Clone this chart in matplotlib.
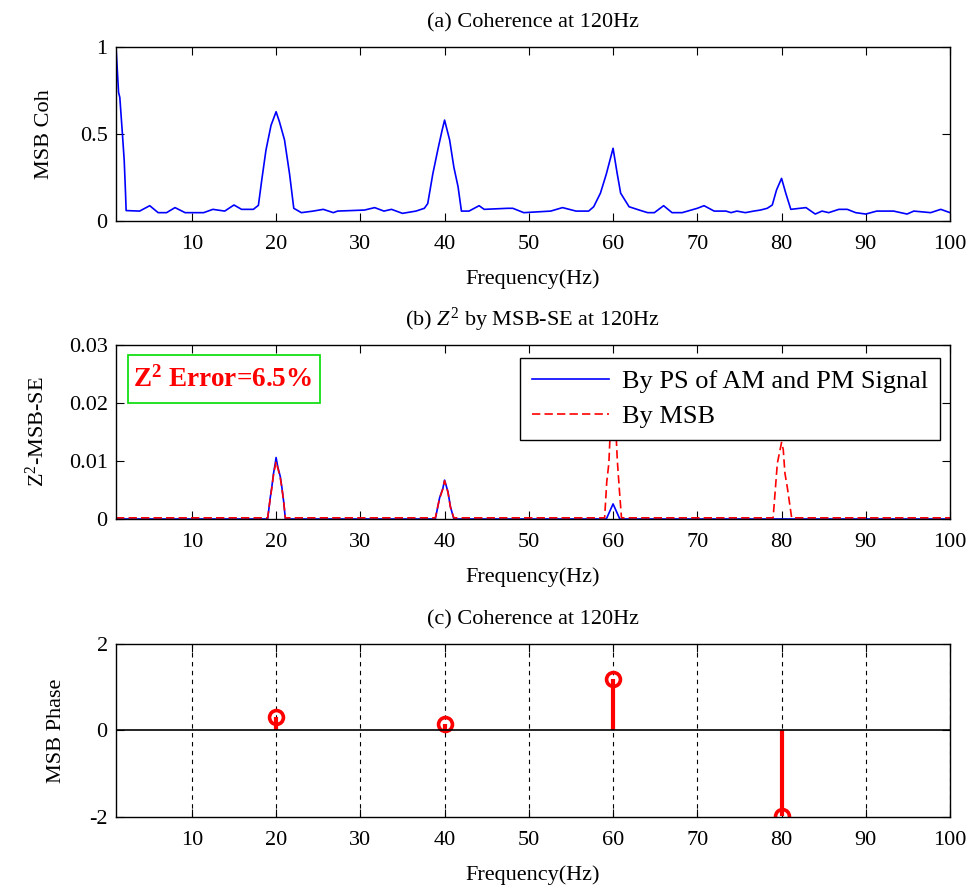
import matplotlib
matplotlib.use("Agg")
import matplotlib.pyplot as plt
from matplotlib.patches import Rectangle

# ---- (a) magnitude-squared bicoherence vs frequency ----
coh_freq = [1.0, 1.3, 1.45, 1.73, 1.97, 2.12, 2.2, 3.8, 5.0, 6.0, 7.0, 8.0, 9.2, 11.4, 12.5,
            13.9, 15.0, 15.9, 17.3, 17.9, 18.3, 18.8, 19.4, 20.0, 20.4, 21.0, 21.6, 22.1,
            23.0, 24.4, 25.6, 26.8, 27.3, 30.5, 31.7, 32.8, 33.7, 35.0, 36.6, 37.6, 38.0,
            38.6, 39.2, 39.7, 40.0, 40.6, 41.1, 41.6, 42.0, 42.9, 44.1, 44.7, 47.5, 48.1,
            49.4, 52.6, 54.0, 55.6, 57.1, 57.7, 58.5, 59.2, 60.0, 60.5, 60.9, 61.9, 63.1,
            64.1, 64.9, 66.0, 67.0, 68.2, 70.0, 70.8, 72.0, 73.4, 74.0, 74.7, 75.7, 76.7,
            77.5, 78.3, 78.9, 79.4, 80.0, 80.5, 81.1, 82.9, 84.0, 84.8, 85.6, 86.8, 87.8,
            88.8, 90.0, 91.3, 93.3, 94.9, 95.7, 97.7, 98.9, 100.0]
coh_val = [1.0, 0.74, 0.71, 0.52, 0.35, 0.17, 0.06, 0.057, 0.088, 0.048, 0.048, 0.077, 0.048,
           0.048, 0.067, 0.057, 0.092, 0.067, 0.067, 0.09, 0.236, 0.408, 0.55, 0.628, 0.57,
           0.466, 0.27, 0.073, 0.048, 0.057, 0.067, 0.048, 0.057, 0.063, 0.077, 0.057,
           0.067, 0.044, 0.057, 0.073, 0.10, 0.27, 0.41, 0.52, 0.58, 0.466, 0.31, 0.197,
           0.057, 0.057, 0.088, 0.067, 0.073, 0.073, 0.048, 0.057, 0.077, 0.057, 0.057,
           0.082, 0.16, 0.27, 0.418, 0.27, 0.16, 0.082, 0.063, 0.048, 0.048, 0.088, 0.048,
           0.048, 0.073, 0.088, 0.057, 0.057, 0.048, 0.057, 0.048, 0.057, 0.063, 0.073,
           0.092, 0.178, 0.245, 0.16, 0.067, 0.077, 0.04, 0.057, 0.048, 0.067, 0.067,
           0.048, 0.04, 0.057, 0.057, 0.04, 0.057, 0.048, 0.067, 0.048]

# ---- (b) Z^2 estimates ----
ps_freq = [1.0, 19.0, 19.3, 19.5, 19.7, 19.9, 20.0, 20.2, 20.5, 20.7, 20.9, 21.1,
           38.9, 39.4, 39.8, 40.0, 40.4, 40.7, 41.1, 59.2, 60.0, 60.8, 100.0]
ps_val = [0.0, 0.0, 0.0036, 0.0056, 0.0079, 0.0096, 0.0106, 0.009, 0.0073, 0.0053, 0.003, 0.0,
          0.0, 0.0036, 0.0053, 0.0067, 0.0047, 0.0021, 0.0, 0.0, 0.0026, 0.0, 0.0]

msb_freq = [1.0, 19.0, 19.3, 19.5, 19.7, 20.0, 20.2, 20.5, 20.7, 20.9, 21.1,
            38.9, 39.4, 39.8, 40.0, 40.4, 40.7, 41.1,
            59.0, 59.25, 59.5, 60.0, 60.5, 60.75, 61.0,
            79.0, 79.5, 80.0, 80.2, 80.4, 80.7, 81.2, 100.0]
msb_val = [0.0002, 0.0002, 0.0035, 0.0054, 0.0077, 0.0099, 0.0088, 0.0071, 0.0052, 0.003, 0.0002,
           0.0002, 0.0035, 0.0052, 0.0066, 0.0046, 0.002, 0.0002,
           0.0002, 0.0064, 0.0096, 0.026, 0.0102, 0.005, 0.0002,
           0.0002, 0.0096, 0.0132, 0.012, 0.0079, 0.0053, 0.0002, 0.0002]

# ---- (c) bispectral phase at the coupled frequencies ----
phase_freq = [20, 40, 60, 80]
phase_val = [0.32, 0.16, 1.2, -1.98]

x_ticks = [10, 20, 30, 40, 50, 60, 70, 80, 90, 100]

plt.rcParams.update({
    "font.family": ["Liberation Serif", "DejaVu Serif"],
    "mathtext.fontset": "custom",
    "mathtext.rm": "Liberation Serif",
    "mathtext.it": "Liberation Serif:italic",
    "mathtext.bf": "Liberation Serif:bold",
    "axes.unicode_minus": False,
    "font.size": 16,
    "axes.linewidth": 1.0,
    "xtick.direction": "in",
    "ytick.direction": "in",
    "xtick.top": True,
    "ytick.right": True,
    "xtick.major.size": 6,
    "ytick.major.size": 6,
    "xtick.major.pad": 10,
    "ytick.major.pad": 6,
})

fig = plt.figure(figsize=(9.75, 8.89), dpi=100)
L, W, H = 0.119, 0.8554, 0.1957
ax1 = fig.add_axes([L, 0.7514, W, H])
ax2 = fig.add_axes([L, 0.4162, W, H])
ax3 = fig.add_axes([L, 0.0810, W, 0.1946])

# (a)
ax1.plot(coh_freq, coh_val, color="#0000ff", lw=1.2)
ax1.set_xlim(1, 100)
ax1.set_ylim(0, 1)
ax1.set_xticks(x_ticks)
ax1.set_yticks([0, 0.5, 1])
ax1.set_yticklabels(["0", "0.5", "1"])
ax1.set_title("(a) Coherence at 120Hz", fontsize=16, pad=14)
ax1.set_xlabel("Frequency(Hz)", labelpad=11)
ax1.set_ylabel("MSB Coh")
ax1.yaxis.set_label_coords(-0.074, 0.5)

# (b)
ax2.plot(ps_freq, ps_val, color="#0000ff", lw=1.2, label="By PS of AM and PM Signal")
ax2.plot(msb_freq, msb_val, color="#ff0000", lw=1.2, dashes=(5, 2.5), label="By MSB")
ax2.set_xlim(1, 100)
ax2.set_ylim(0, 0.03)
ax2.set_xticks(x_ticks)
ax2.set_yticks([0, 0.01, 0.02, 0.03])
ax2.set_yticklabels(["0", "0.01", "0.02", "0.03"])
ax2.set_title(r"(b) $Z^2$ by MSB-SE at 120Hz", fontsize=16, pad=14)
ax2.set_xlabel("Frequency(Hz)", labelpad=11)
ax2.set_ylabel(r"$\mathrm{Z}^2$-MSB-SE")
ax2.yaxis.set_label_coords(-0.081, 0.5)
leg = ax2.legend(loc="upper right", bbox_to_anchor=(0.988, 0.925), borderaxespad=0,
                 fancybox=False, framealpha=1, edgecolor="black", fontsize=19,
                 handlelength=2.9, handletextpad=0.5, borderpad=0.45, labelspacing=0.42)
leg.get_frame().set_linewidth(1.0)
ax2.add_patch(Rectangle((0.0144, 0.6667), 0.2302, 0.2758, transform=ax2.transAxes,
                        facecolor="white", edgecolor="#00dd00", lw=1.2, zorder=4))
ax2.text(0.0204, 0.80, r"$\mathbf{Z^2}$ Error=6.5%", transform=ax2.transAxes,
         ha="left", va="center", color="#ff0000", fontsize=19.5, fontweight="bold",
         zorder=5)

# (c)
markerline, stemlines, baseline = ax3.stem(phase_freq, phase_val, basefmt="k-")
plt.setp(stemlines, color="#ff0000", linewidth=3)
plt.setp(markerline, color="#ff0000", marker="o", markersize=10, markerfacecolor="none",
         markeredgewidth=2.6)
baseline.set_xdata([1, 100])
plt.setp(baseline, linewidth=1.2)
ax3.set_xlim(1, 100)
ax3.set_ylim(-2, 2)
ax3.set_xticks(x_ticks)
ax3.set_yticks([-2, 0, 2])
ax3.grid(axis="x", color="black", linestyle=(0, (4, 4)), linewidth=0.8)
ax3.set_axisbelow(True)
ax3.set_title("(c) Coherence at 120Hz", fontsize=16, pad=14)
ax3.set_xlabel("Frequency(Hz)", labelpad=11)
ax3.set_ylabel("MSB Phase")
ax3.yaxis.set_label_coords(-0.06, 0.5)

fig.savefig("out.png", dpi=100)
